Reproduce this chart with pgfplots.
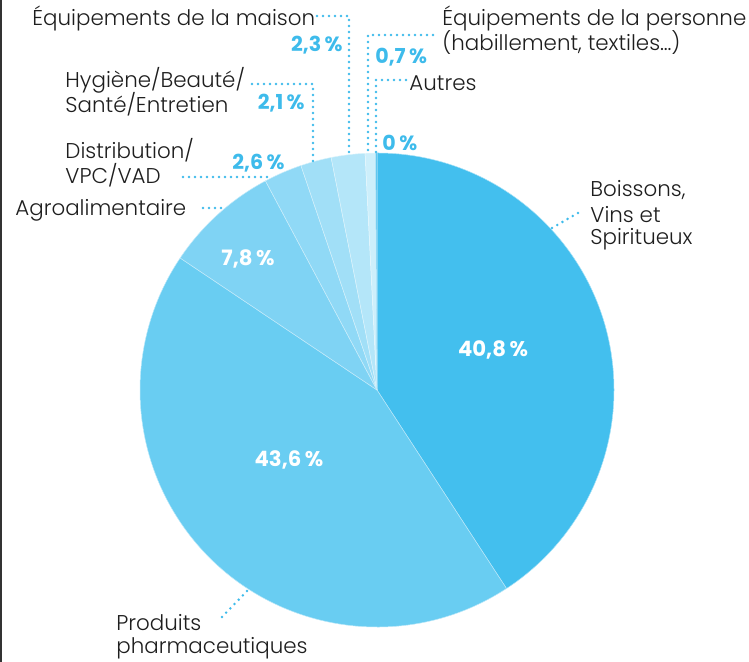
\documentclass[border=0pt]{standalone}
\usepackage{fontspec}
\setmainfont{Poppins}[UprightFont=* Light, BoldFont=* Bold]
\usepackage{pgfplots}
\usepackage{pgfplotstable}
\pgfplotsset{compat=1.18}

% shares in percent, clockwise from 12 o'clock
\pgfplotstableread{
value
40.8
43.6
7.8
2.6
2.1
2.3
0.7
0.1
}\piedata

\definecolor{c0}{HTML}{43BFEE}
\definecolor{c1}{HTML}{69CDF2}
\definecolor{c2}{HTML}{7FD3F4}
\definecolor{c3}{HTML}{90D9F6}
\definecolor{c4}{HTML}{A1DFF7}
\definecolor{c5}{HTML}{B4E6F9}
\definecolor{c6}{HTML}{CDEFFB}
\definecolor{c7}{HTML}{55C3EF}
\definecolor{pctblue}{HTML}{3EBBEB}
\definecolor{txt}{HTML}{1E1E1E}

\tikzset{
  lbl/.style={anchor=west, text=txt, font=\fontsize{10.7pt}{12pt}\selectfont, inner sep=0pt},
  pct/.style={text=pctblue, font=\fontsize{10.3pt}{11pt}\selectfont\bfseries, inner sep=0pt},
  wpct/.style={text=white, font=\fontsize{10.6pt}{11pt}\selectfont\bfseries, inner sep=0pt},
  dots/.style={pctblue, line width=1.4pt, line cap=round, dash pattern=on 0pt off 3pt},
}

\begin{document}
\begin{tikzpicture}
\begin{axis}[
  name=pie,
  scale only axis, width=374.5pt, height=331pt,
  xmin=0, xmax=749, ymin=0, ymax=662,
  hide axis, clip=false,
]
\pgfplotstablegetrowsof{\piedata}
\def\angA{90}
\pgfplotsforeachungrouped \i in {0,...,7}{
  \pgfplotstablegetelem{\i}{value}\of\piedata
  \pgfmathsetmacro\angB{\angA-3.6*\pgfplotsretval}
  \edef\temp{\noexpand\fill[c\i, draw=white!55!c\i, line width=0.25pt] (axis cs:377,272) -- ++(\angA:118.5pt) arc[start angle=\angA, end angle=\angB, radius=118.5pt] -- cycle;}
  \temp
  \global\let\angA\angB
}

% leader lines
\draw[dots] (axis cs:317,646) -- (axis cs:349,646) -- (axis cs:349,507);
\draw[dots] (axis cs:433,627) -- (axis cs:368,627) -- (axis cs:368,509);
\draw[dots] (axis cs:406,582) -- (axis cs:376,582) -- (axis cs:376,509);
\draw[dots] (axis cs:252,578) -- (axis cs:313,578) -- (axis cs:313,500);
\draw[dots] (axis cs:183,485) -- (axis cs:272,485);
\draw[dots] (axis cs:203,454) -- (axis cs:225,454);
\draw[dots] (axis cs:552,434) -- (axis cs:578,449);
\draw[dots] (axis cs:222,45) -- (axis cs:248,72);

% category labels
\node[lbl] at (axis cs:32,644) {Équipements de la maison};
\node[lbl] at (axis cs:442,644) {Équipements de la personne};
\node[lbl] at (axis cs:442,619) {(habillement, textiles…)};
\node[lbl] at (axis cs:409,579) {Autres};
\node[lbl] at (axis cs:65,582) {Hygiène/Beauté/};
\node[lbl] at (axis cs:65,558) {Santé/Entretien};
\node[lbl] at (axis cs:65,512) {Distribution/};
\node[lbl] at (axis cs:65,487) {VPC/VAD};
\node[lbl] at (axis cs:15,452) {Agroalimentaire};
\node[lbl] at (axis cs:590,472) {Boissons,};
\node[lbl] at (axis cs:590,447) {Vins et};
\node[lbl] at (axis cs:590,423) {Spiritueux};
\node[lbl] at (axis cs:116,39) {Produits};
\node[lbl] at (axis cs:116,14) {pharmaceutiques};

% percentages
\node[pct, anchor=east] at (axis cs:343,617) {2,3\,\%};
\node[pct, anchor=west] at (axis cs:375,605) {0,7\,\%};
\node[pct, anchor=west] at (axis cs:382,519) {0\,\%};
\node[pct, anchor=east] at (axis cs:305,559) {2,1\,\%};
\node[pct, anchor=east] at (axis cs:285,499) {2,6\,\%};
\node[wpct] at (axis cs:248,403) {7,8\,\%};
\node[wpct] at (axis cs:289,202) {43,6\,\%};
\node[wpct] at (axis cs:493,312) {40,8\,\%};

\draw[color=black!80, line width=1pt] (axis cs:1,0) -- (axis cs:1,662);
\end{axis}
\pgfresetboundingbox
\path (pie.south west) rectangle (pie.north east);
\end{tikzpicture}
\end{document}
